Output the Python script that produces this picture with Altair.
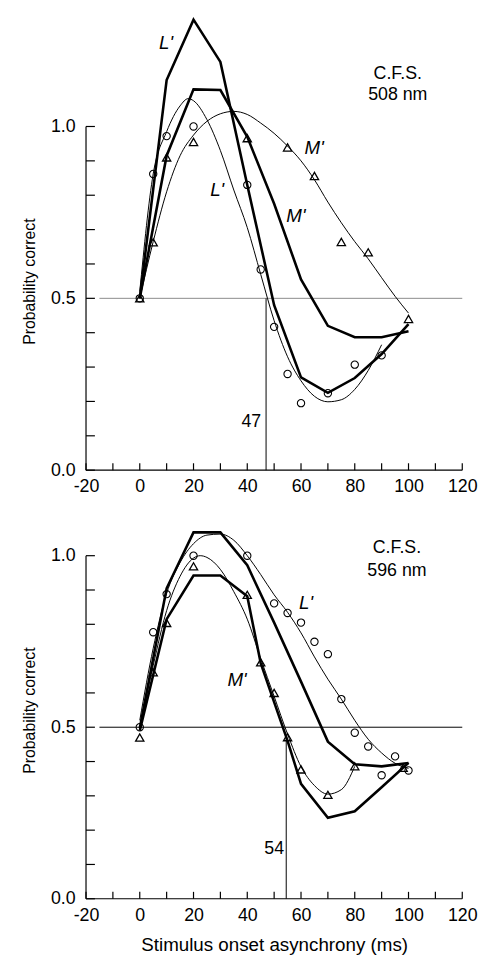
import altair as alt
import pandas as pd

FONT = "Liberation Sans"

# ---------------- shared axis values ----------------
x_label_values = [-20, 0, 20, 40, 60, 80, 100, 120]
x_tick_values = [-20, -10, 0, 10, 20, 30, 40, 50, 60, 70, 80, 90, 100, 110, 120]
y_label_values = [0.0, 0.5, 1.0]
y_tick_values = [0.0, 0.1, 0.2, 0.3, 0.4, 0.5, 0.6, 0.7, 0.8, 0.9, 1.0]

# ---------------- top panel: C.F.S. 508 nm ----------------
top_circ_x = [0, 5, 10, 20, 40, 45, 50, 55, 60, 70, 80, 90]
top_circ_y = [0.5, 0.862, 0.972, 1.0, 0.83, 0.584, 0.417, 0.28, 0.195, 0.224, 0.307, 0.334]
top_tri_x = [0, 5, 10, 20, 40, 55, 65, 75, 85, 100]
top_tri_y = [0.5, 0.663, 0.91, 0.955, 0.966, 0.939, 0.856, 0.664, 0.634, 0.44]

top_thickL_x = [0, 10, 20, 30, 40, 50, 60, 70, 80, 90, 100]
top_thickL_y = [0.5, 1.135, 1.311, 1.188, 0.83, 0.48, 0.27, 0.225, 0.268, 0.338, 0.425]
top_thickM_x = [0, 10, 20, 30, 40, 50, 60, 70, 80, 90, 100]
top_thickM_y = [0.5, 0.915, 1.108, 1.106, 0.97, 0.775, 0.555, 0.42, 0.387, 0.387, 0.404]

top_thinL_x = [0, 5, 10, 15, 18, 20, 25, 30, 35, 40, 45, 50, 55, 60, 65, 70, 75, 80, 85, 90]
top_thinL_y = [0.52, 0.862, 0.985, 1.06, 1.081, 1.075, 1.02, 0.93, 0.815, 0.706, 0.57, 0.435,
               0.33, 0.26, 0.215, 0.199, 0.205, 0.235, 0.29, 0.365]
top_thinM_x = [0, 5, 10, 15, 20, 25, 30, 35, 40, 45, 50, 55, 60, 65, 70, 75, 80, 85, 90, 95, 100]
top_thinM_y = [0.5, 0.665, 0.81, 0.915, 0.975, 1.015, 1.037, 1.044, 1.035, 1.01, 0.98, 0.943,
               0.9, 0.845, 0.78, 0.72, 0.665, 0.615, 0.56, 0.506, 0.457]

top_italic_text = ["L'", "L'", "M'", "M'"]
top_italic_x = [9.8, 28.8, 64.9, 58.1]
top_italic_y = [1.242, 0.816, 0.936, 0.740]
top_plain_text = ["C.F.S.", "508 nm", "47"]
top_plain_x = [96, 96, 41.5]
top_plain_y = [1.153, 1.091, 0.14]
top_crit_x = 47
top_crit_top = 0.5

# ---------------- bottom panel: C.F.S. 596 nm ----------------
bot_circ_x = [0, 5, 10, 20, 40, 50, 55, 60, 65, 70, 75, 80, 85, 90, 95, 100]
bot_circ_y = [0.5, 0.777, 0.888, 1.0, 1.0, 0.861, 0.833, 0.805, 0.749, 0.713, 0.582, 0.484,
              0.444, 0.36, 0.415, 0.374]
bot_tri_x = [0, 5, 10, 20, 40, 45, 50, 55, 60, 70, 80, 98]
bot_tri_y = [0.47, 0.66, 0.804, 0.969, 0.886, 0.689, 0.6, 0.471, 0.377, 0.303, 0.386, 0.382]

bot_thickL_x = [0, 10, 20, 30, 40, 50, 60, 70, 80, 90, 100]
bot_thickL_y = [0.497, 0.905, 1.068, 1.068, 0.972, 0.805, 0.633, 0.458, 0.392, 0.386, 0.396]
bot_thickM_x = [0, 10, 20, 30, 40, 45, 50, 55, 60, 70, 80, 90, 100]
bot_thickM_y = [0.49, 0.815, 0.942, 0.942, 0.882, 0.687, 0.573, 0.46, 0.335, 0.236, 0.255,
                0.325, 0.396]

bot_thinL_x = [0, 5, 10, 15, 20, 25, 30, 35, 40, 45, 50, 55, 60, 65, 70, 75, 80, 85, 90, 95, 100]
bot_thinL_y = [0.52, 0.73, 0.89, 0.98, 1.035, 1.06, 1.063, 1.045, 1.0, 0.945, 0.886, 0.835,
               0.775, 0.705, 0.64, 0.582, 0.52, 0.465, 0.425, 0.395, 0.38]
bot_thinM_x = [0, 5, 10, 15, 20, 22.5, 25, 30, 35, 40, 45, 50, 55, 60, 65, 70, 75, 80]
bot_thinM_y = [0.5, 0.68, 0.84, 0.94, 0.993, 1.0, 0.995, 0.96, 0.895, 0.815, 0.7, 0.59,
               0.48, 0.385, 0.33, 0.305, 0.318, 0.386]

bot_italic_text = ["L'", "M'"]
bot_italic_x = [61.9, 36.2]
bot_italic_y = [0.862, 0.638]
bot_plain_text = ["C.F.S.", "596 nm", "54"]
bot_plain_x = [95.7, 95.7, 50]
bot_plain_y = [1.022, 0.955, 0.146]
bot_crit_x = 54.5
bot_crit_top = 0.47

Y_TITLE_CENTER = 0.55  # the y-axis title sits centred near this data value


def df(xs, ys):
    return pd.DataFrame({"x": xs, "y": ys})


def panel(p, ymax, height, ref_color, show_xtitle):
    width = 381
    px_per_x = width / 140.0
    px_per_y = height / ymax

    xscale = alt.Scale(domain=[-20, 120], nice=False, zero=False)
    yscale = alt.Scale(domain=[0, ymax], nice=False, zero=False)
    xaxis_kw = dict(values=x_label_values, labelExpr="datum.value + ''", domain=False,
                    ticks=False, tickSize=0, grid=False, labelPadding=8, labelFont=FONT,
                    labelFontSize=18, labelColor="black", labelFlush=False)
    if show_xtitle:
        xaxis_kw.update(titleFont=FONT, titleFontSize=19, titleFontWeight="normal",
                        titleColor="black", titlePadding=11)
    X = alt.X("x:Q", scale=xscale, axis=alt.Axis(**xaxis_kw),
              title="Stimulus onset asynchrony (ms)" if show_xtitle else None)
    Y = alt.Y("y:Q", scale=yscale,
              axis=alt.Axis(values=y_label_values, format=".1f", domain=False, ticks=False,
                            tickSize=0, grid=False, labelPadding=11, labelFont=FONT,
                            labelFontSize=18, labelColor="black", titleFont=FONT,
                            titleFontSize=16, titleFontWeight="normal", titleColor="black",
                            titlePadding=13,
                            titleY=(ymax - Y_TITLE_CENTER) * px_per_y),
              title="Probability correct")

    # axis frame and inward ticks
    xt = 7 / px_per_y
    yt = 9 / px_per_x
    fx, fx2, fy, fy2 = [], [], [], []
    for t in x_tick_values:
        fx.append(t); fx2.append(t); fy.append(0); fy2.append(xt)
    for t in y_tick_values:
        fx.append(-20); fx2.append(-20 + yt); fy.append(t); fy2.append(t)
    fx += [-20, -20]; fx2 += [120, -20]; fy += [0, 0]; fy2 += [0, 1.0]
    frame = pd.DataFrame({"x": fx, "x2": fx2, "y": fy, "y2": fy2})
    frame_layer = alt.Chart(frame).mark_rule(color="black", strokeWidth=1.2).encode(
        x=X, x2="x2:Q", y=Y, y2="y2:Q")

    refs = pd.DataFrame({"x": [-15, p["crit_x"]], "x2": [120, p["crit_x"]],
                         "y": [0.5, 0], "y2": [0.5, p["crit_top"]],
                         "c": [ref_color, "black"]})
    ref_layer = alt.Chart(refs).mark_rule(strokeWidth=1).encode(
        x=X, x2="x2:Q", y=Y, y2="y2:Q", color=alt.Color("c:N", scale=None))

    thinL = alt.Chart(df(p["thinL_x"], p["thinL_y"])).mark_line(
        color="black", strokeWidth=1, interpolate="monotone").encode(x=X, y=Y)
    thinM = alt.Chart(df(p["thinM_x"], p["thinM_y"])).mark_line(
        color="black", strokeWidth=1, interpolate="monotone").encode(x=X, y=Y)
    thickL = alt.Chart(df(p["thickL_x"], p["thickL_y"])).mark_line(
        color="black", strokeWidth=2.6, strokeJoin="miter").encode(x=X, y=Y)
    thickM = alt.Chart(df(p["thickM_x"], p["thickM_y"])).mark_line(
        color="black", strokeWidth=2.6, strokeJoin="miter").encode(x=X, y=Y)
    circ = alt.Chart(df(p["circ_x"], p["circ_y"])).mark_point(
        shape="circle", filled=False, size=55, color="black", strokeWidth=1.1,
        opacity=1).encode(x=X, y=Y)
    tri = alt.Chart(df(p["tri_x"], p["tri_y"])).mark_point(
        shape="triangle-up", filled=False, size=70, color="black", strokeWidth=1.3,
        opacity=1).encode(x=X, y=Y)

    it = pd.DataFrame({"x": p["it_x"], "y": p["it_y"], "t": p["it_t"]})
    it_layer = alt.Chart(it).mark_text(font=FONT, fontSize=19, fontStyle="italic",
                                       color="black", align="center", baseline="middle").encode(
        x=X, y=Y, text="t:N")
    pl = pd.DataFrame({"x": p["pl_x"], "y": p["pl_y"], "t": p["pl_t"]})
    pl_layer = alt.Chart(pl).mark_text(font=FONT, fontSize=18, color="black",
                                       align="center", baseline="middle").encode(
        x=X, y=Y, text="t:N")

    return alt.layer(ref_layer, frame_layer, thinL, thinM, thickL, thickM, circ, tri,
                     it_layer, pl_layer).properties(width=width, height=height)


top = panel(dict(circ_x=top_circ_x, circ_y=top_circ_y, tri_x=top_tri_x, tri_y=top_tri_y,
                 thickL_x=top_thickL_x, thickL_y=top_thickL_y,
                 thickM_x=top_thickM_x, thickM_y=top_thickM_y,
                 thinL_x=top_thinL_x, thinL_y=top_thinL_y,
                 thinM_x=top_thinM_x, thinM_y=top_thinM_y,
                 it_t=top_italic_text, it_x=top_italic_x, it_y=top_italic_y,
                 pl_t=top_plain_text, pl_x=top_plain_x, pl_y=top_plain_y,
                 crit_x=top_crit_x, crit_top=top_crit_top),
            ymax=1.316, height=458, ref_color="#8a8a8a", show_xtitle=False)

bottom = panel(dict(circ_x=bot_circ_x, circ_y=bot_circ_y, tri_x=bot_tri_x, tri_y=bot_tri_y,
                    thickL_x=bot_thickL_x, thickL_y=bot_thickL_y,
                    thickM_x=bot_thickM_x, thickM_y=bot_thickM_y,
                    thinL_x=bot_thinL_x, thinL_y=bot_thinL_y,
                    thinM_x=bot_thinM_x, thinM_y=bot_thinM_y,
                    it_t=bot_italic_text, it_x=bot_italic_x, it_y=bot_italic_y,
                    pl_t=bot_plain_text, pl_x=bot_plain_x, pl_y=bot_plain_y,
                    crit_x=bot_crit_x, crit_top=bot_crit_top),
               ymax=1.1514, height=400, ref_color="black", show_xtitle=True)

chart = alt.vconcat(top, bottom, spacing=8).properties(
    padding={"left": 13, "top": 0, "right": 5, "bottom": 0},
    background="white",
).configure_view(stroke=None)

chart.save("out.html", embed_options={"renderer": "svg", "actions": False})
